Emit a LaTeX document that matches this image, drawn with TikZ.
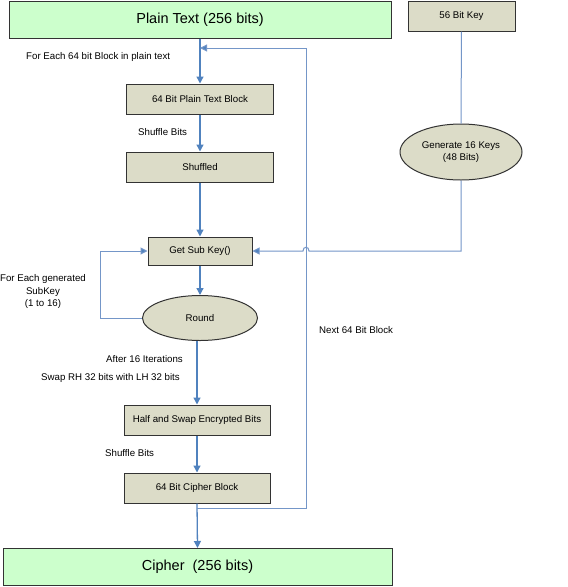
\documentclass[tikz,border=0pt]{standalone}
\usepackage{fontspec}
\setmainfont{Liberation Sans}
\usetikzlibrary{arrows.meta,shapes.geometric}
\definecolor{boxgreen}{HTML}{CCFFCC}
\definecolor{boxgray}{HTML}{DCDCC8}
\definecolor{edge}{HTML}{333333}
\definecolor{flow}{HTML}{5082BE}
\definecolor{flowlight}{HTML}{7496C8}
\tikzset{
  big/.style={draw=edge,line width=1pt,fill=boxgreen,minimum height=37pt,inner sep=0pt,font=\fontsize{14.5}{16}\selectfont},
  proc/.style={draw=edge,line width=1pt,fill=boxgray,minimum height=30pt,inner sep=0pt,font=\fontsize{9.7}{12}\selectfont},
  oval/.style={ellipse,draw=edge,line width=1pt,fill=boxgray,inner sep=0pt,font=\fontsize{9.7}{12.5}\selectfont,align=center},
  lbl/.style={inner sep=0pt,font=\fontsize{9.7}{12.5}\selectfont},
  flowarrow/.style={draw=flow,line width=1.3pt,-{Triangle[length=7pt,width=7pt]}},
  flowline/.style={draw=flowlight,line width=1pt},
  flowlinearrow/.style={draw=flowlight,line width=1pt,-{Triangle[length=7pt,width=7pt,fill=flow]}},
}
\begin{document}
\begin{tikzpicture}[x=1pt,y=-1pt]
\useasboundingbox (0,0) rectangle (568,587);
\fill[white] (0,0) rectangle (568,587);
% nodes
\node[big,minimum width=382pt] (plain) at (200,19.5) {Plain Text (256 bits)};
\node[proc,minimum width=107pt] (key) at (461.5,16) {56 Bit Key};
\node[oval,minimum width=122pt,minimum height=56pt] (gen) at (461,152) {Generate 16 Keys\\(48 Bits)};
\node[proc,minimum width=147pt] (ptb) at (200,99) {64 Bit Plain Text Block};
\node[proc,minimum width=147pt] (shuf) at (200,167) {Shuffled};
\node[proc,minimum width=104pt,minimum height=28pt] (gsk) at (200,251) {Get Sub Key()};
\node[oval,minimum width=115pt,minimum height=45pt] (round) at (200,318) {Round};
\node[proc,minimum width=146pt] (half) at (197,420) {Half and Swap Encrypted Bits};
\node[proc,minimum width=146pt] (cb) at (197,488) {64 Bit Cipher Block};
\node[big,minimum width=389pt] (cipher) at (197.5,567) {Cipher~ (256 bits)};
% coordinates
\coordinate (loopR) at (306,48);
\coordinate (loopM) at (200,48);
\coordinate (botR) at (306,508);
\coordinate (botM) at (197,508);
\coordinate (genC) at (461,251);
\coordinate (hopR) at (309,251);
\coordinate (hopL) at (303,251);
\coordinate (subL) at (100,251);
\coordinate (subB) at (100,318);
% labels
\node[lbl,anchor=west] (l1) at (26,57) {For Each 64 bit Block in plain text};
\node[lbl,anchor=west] (l2) at (138,132) {Shuffle Bits};
\node[lbl,align=center] (l3) at (43,291.5) {For Each generated\\SubKey\\(1 to 16)};
\node[lbl,anchor=east] (l4) at (183,359) {After 16 Iterations};
\node[lbl,anchor=east] (l5) at (180,378) {Swap RH 32 bits with LH 32 bits};
\node[lbl,anchor=west] (l6) at (319,330) {Next 64 Bit Block};
\node[lbl,anchor=west] (l7) at (105,453) {Shuffle Bits};
% connectors
\draw[flowarrow] (plain.south) -- (ptb.north);
\draw[flowarrow] (ptb.south) -- (shuf.north);
\draw[flowarrow] (shuf.south) -- (gsk.north);
\draw[flowline] (key.south) -- (gen.north);
\draw[flowlinearrow] (gen.south) -- (genC) -- (hopR) .. controls (309,246) and (303,246) .. (hopL) -- (gsk.east);
\draw[flowarrow] (gsk.south) -- (round.north);
\draw[flowlinearrow] (round.west) -- (subB) -- (subL) -- (gsk.west);
\draw[flowarrow] (half.north |- round.south) -- (half.north);
\draw[flowarrow] (half.south) -- (cb.north);
\draw[flowarrow] (cb.south) -- (cipher.north);
\draw[flowlinearrow] (botM) -- (botR) -- (loopR) -- (loopM);
\end{tikzpicture}
\end{document}
